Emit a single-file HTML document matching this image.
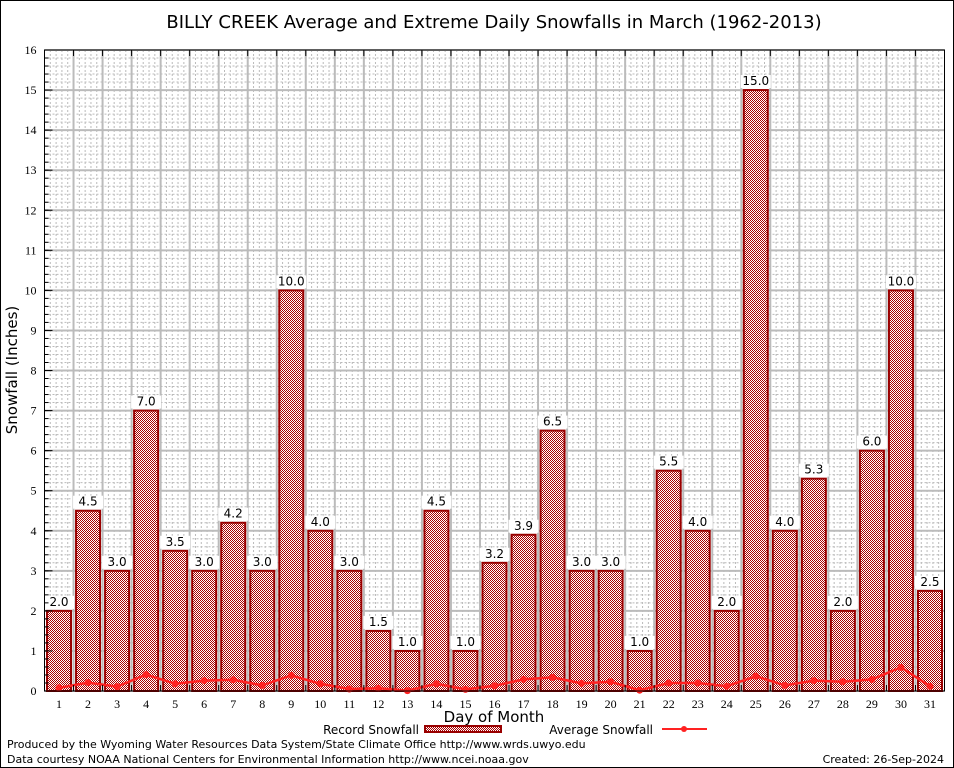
<!DOCTYPE html>
<html><head><meta charset="utf-8"><style>
html,body{margin:0;padding:0;background:#fff;}
svg{display:block;font-family:"DejaVu Sans",sans-serif;}
</style></head><body>
<svg id="chart" width="954" height="768" viewBox="0 0 954 768">
<defs>
<pattern id="chk" width="2" height="2" patternUnits="userSpaceOnUse">
<rect width="2" height="2" fill="#fff"/><rect width="1" height="1" fill="#a00"/><rect x="1" y="1" width="1" height="1" fill="#a00"/>
</pattern>
</defs>
<rect x="0.5" y="0.5" width="953" height="767" fill="#fff" stroke="#000"/>
<text x="494" y="28" font-size="18" text-anchor="middle">BILLY CREEK Average and Extreme Daily Snowfalls in March (1962-2013)</text>
<g id="grid"></g>
<g id="bars"></g>
<g id="avg"></g>
<g id="axes"></g>
<text transform="translate(17,370) rotate(-90)" font-size="15" text-anchor="middle">Snowfall (Inches)</text>
<text x="494" y="722" font-size="15" text-anchor="middle">Day of Month</text>
<g>
<text x="419" y="734" font-size="12" text-anchor="end">Record Snowfall</text>
<rect x="425" y="726" width="76" height="6" fill="url(#chk)" stroke="#900" stroke-width="2"/>
</g>
<g>
<text x="653" y="734" font-size="12" text-anchor="end">Average Snowfall</text>
<line x1="662" y1="729" x2="707" y2="729" stroke="#f22" stroke-width="2"/>
<circle cx="684" cy="729" r="3" fill="#f22"/>
</g>
<text x="7" y="748" font-size="11">Produced by the Wyoming Water Resources Data System/State Climate Office http://www.wrds.uwyo.edu</text>
<text x="7" y="763" font-size="11">Data courtesy NOAA National Centers for Environmental Information http://www.ncei.noaa.gov</text>
<text x="944" y="763" font-size="11" text-anchor="end">Created: 26-Sep-2024</text>
</svg>
<script>
const days = [1,2,3,4,5,6,7,8,9,10,11,12,13,14,15,16,17,18,19,20,21,22,23,24,25,26,27,28,29,30,31];
const recordValues = [2.0,4.5,3.0,7.0,3.5,3.0,4.2,3.0,10.0,4.0,3.0,1.5,1.0,4.5,1.0,3.2,3.9,6.5,3.0,3.0,1.0,5.5,4.0,2.0,15.0,4.0,5.3,2.0,6.0,10.0,2.5];
const averageValues = [0.08,0.21,0.11,0.41,0.18,0.26,0.28,0.14,0.39,0.18,0.05,0.07,0.01,0.18,0.04,0.13,0.29,0.34,0.19,0.23,0.02,0.2,0.2,0.12,0.37,0.14,0.26,0.23,0.29,0.59,0.12];
const yTicks = [0,1,2,3,4,5,6,7,8,9,10,11,12,13,14,15,16];

const NS="http://www.w3.org/2000/svg";
const L=44.5,R=944.5,T=50,B=691,YMAX=16;
const slot=(R-L)/days.length;
const xC=d=>L+(d-0.5)*slot;
const yS=v=>B-(v/YMAX)*(B-T);
function mk(tag,attrs,parent){const e=document.createElementNS(NS,tag);for(const k in attrs)e.setAttribute(k,attrs[k]);parent.appendChild(e);return e;}
const grid=document.getElementById('grid'),bars=document.getElementById('bars'),avg=document.getElementById('avg'),axes=document.getElementById('axes');
mk('rect',{x:L,y:T,width:R-L,height:B-T,fill:'#fff'},grid);
for(let v=0;v<=YMAX;v+=0.2){const y=yS(v);mk('line',{x1:L,x2:R,y1:y,y2:y,stroke:'#bbb','stroke-width':1,'stroke-dasharray':'2,2'},grid);}
for(let i=0;i<days.length;i++){for(let k=1;k<5;k++){const x=L+i*slot+k*slot/5;mk('line',{x1:x,x2:x,y1:T,y2:B,stroke:'#bbb','stroke-width':1,'stroke-dasharray':'2,2'},grid);}}
yTicks.forEach(v=>{const y=yS(v);mk('line',{x1:L,x2:R,y1:y,y2:y,stroke:'#bbb','stroke-width':2},grid);});
for(let i=1;i<days.length;i++){const x=L+i*slot;mk('line',{x1:x,x2:x,y1:T,y2:B,stroke:'#bbb','stroke-width':2},grid);}
days.forEach((d,i)=>{
  const v=recordValues[i],x=xC(d)-12,y=yS(v);
  const r=mk('rect',{x:x,y:y,width:24,height:B-y,fill:'url(#chk)',stroke:'#900','stroke-width':2},bars);
  
  
  mk('rect',{x:xC(d)-15,y:y-15,width:30,height:13,fill:'#fff'},bars);
  const t=mk('text',{x:xC(d),y:y-5,'font-size':12,'text-anchor':'middle'},bars);
  t.textContent=v.toFixed(1);
  
  
});
const pts=days.map((d,i)=>xC(d)+','+yS(averageValues[i])).join(' ');
const pl=mk('polyline',{points:pts,fill:'none',stroke:'#f22','stroke-width':2.5},avg);


days.forEach((d,i)=>{const c=mk('circle',{cx:xC(d),cy:yS(averageValues[i]),r:3.5,fill:'#f22'},avg);
  
  });
mk('rect',{x:L,y:T,width:R-L,height:B-T,fill:'none',stroke:'#000','stroke-width':1},axes);
yTicks.forEach(v=>{const y=yS(v);mk('line',{x1:L,x2:L+8,y1:y,y2:y,stroke:'#000'},axes);
  const t=mk('text',{x:L-8,y:y+4,'font-size':12,'text-anchor':'end','font-family':'Liberation Serif, serif'},axes);t.textContent=v;
  
  });
for(let v=0;v<YMAX;v+=0.2){const y=yS(v);mk('line',{x1:L,x2:L+4,y1:y,y2:y,stroke:'#000'},axes);}
for(let i=1;i<days.length;i++){const x=L+i*slot;mk('line',{x1:x,x2:x,y1:B,y2:B-6,stroke:'#000'},axes);mk('line',{x1:x,x2:x,y1:T,y2:T+6,stroke:'#000'},axes);}
days.forEach(d=>{const t=mk('text',{x:xC(d),y:B+17,'font-size':12,'text-anchor':'middle','font-family':'Liberation Serif, serif'},axes);t.textContent=d;
  
  });
</script>
</body></html>
